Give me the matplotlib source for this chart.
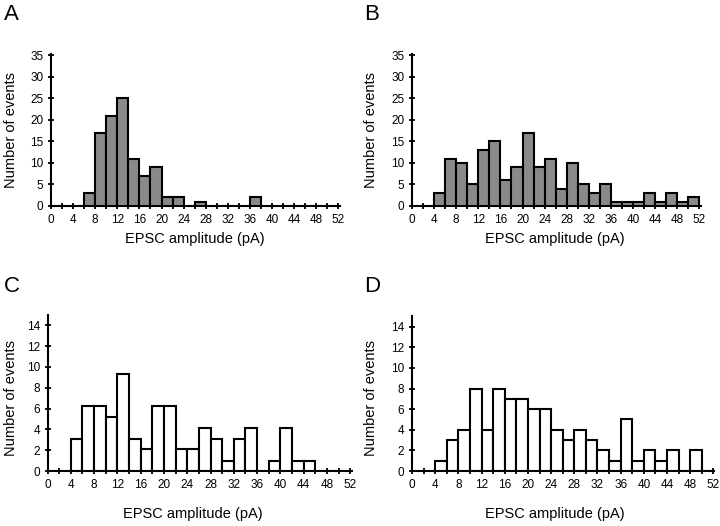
import numpy as np
import matplotlib
matplotlib.use("Agg")
import matplotlib.pyplot as plt
from matplotlib.ticker import MultipleLocator

plt.rcParams['font.family'] = ['Liberation Sans', 'DejaVu Sans']

# histogram bins: 2 pA wide, left edges 0..50
bin_left = np.arange(0, 52, 2)

# panel A and B: counts
counts_a = [0, 0, 0, 3, 17, 21, 25, 11, 7, 9, 2, 2, 0, 1, 0, 0, 0, 0, 2, 0, 0, 0, 0, 0, 0, 0]
counts_b = [0, 0, 3, 11, 10, 5, 13, 15, 6, 9, 17, 9, 11, 4, 10, 5, 3, 5, 1, 1, 1, 3, 1, 3, 1, 2]
# panel C and D
counts_c = [0, 0, 3.1, 6.2, 6.2, 5.2, 9.3, 3.1, 2.1, 6.2, 6.2, 2.1, 2.1, 4.1, 3.1, 1.0, 3.1, 4.1,
            0, 1.0, 4.1, 1.0, 1.0, 0, 0, 0]
counts_d = [0, 0, 1, 3, 4, 8, 4, 8, 7, 7, 6, 6, 4, 3, 4, 3, 2, 1, 5, 1, 2, 1, 2, 0, 2, 0]

xticks = np.arange(0, 56, 4)
W, H = 720, 526

fig = plt.figure(figsize=(7.2, 5.26), dpi=100)


def px_axes(x0, x1, y_top, y_bot):
    # pixel box -> figure fraction
    return fig.add_axes([x0 / W, 1 - y_bot / H, (x1 - x0) / W, (y_bot - y_top) / H])


def panel(ax, counts, color, ymax, ystep, yextra, xmax=52.3):
    c = np.array(counts, dtype=float)
    m = c > 0
    ax.bar(bin_left[m], c[m], width=2, align='edge', color=color,
           edgecolor='black', linewidth=1.5, zorder=3)
    ax.set_xlim(0, xmax)
    ax.set_ylim(0, ymax + yextra)
    ax.set_xticks(xticks)
    ax.xaxis.set_minor_locator(MultipleLocator(2))
    ax.set_yticks(np.arange(0, ymax + 0.1, ystep))
    for s in ['top', 'right']:
        ax.spines[s].set_visible(False)
    for s in ['left', 'bottom']:
        ax.spines[s].set_linewidth(1.5)
    ax.tick_params(which='both', direction='inout', width=1.3, labelsize=8.5, pad=3)
    ax.tick_params(which='major', length=5)
    ax.tick_params(which='minor', length=5)
    ax.patch.set_alpha(0)


def ftext(x, y, s, **kw):
    fig.text(x / W, 1 - y / H, s, **kw)


gray = '#8a8a8a'

axA = px_axes(51, 340, 54, 206)
panel(axA, counts_a, gray, 35, 5, 0.3)
axB = px_axes(412, 701, 54, 206)
panel(axB, counts_b, gray, 35, 5, 0.3)
axC = px_axes(47.5, 352, 325.3 - 10.4, 471)
panel(axC, counts_c, 'white', 14, 2, 1.0)
axD = px_axes(412, 714, 326.7 - 10.3, 471)
panel(axD, counts_d, 'white', 14, 2, 1.0, xmax=52.1)

# panel letters
for x, y, s in [(4, 14, 'A'), (364, 14, 'B'), (4, 286, 'C'), (364, 286, 'D')]:
    ftext(x, y, s, fontsize=16, va='center', ha='left')

# axis labels
for x, y in [(11, 130), (371, 130), (11, 398), (371, 398)]:
    ftext(x, y, 'Number of events', fontsize=10.5, rotation=90, va='center', ha='center')
for x, y in [(195, 239), (555, 239), (193, 514), (555, 514)]:
    ftext(x, y, 'EPSC amplitude (pA)', fontsize=10.5, va='center', ha='center')

fig.savefig('out.png', dpi=100)
